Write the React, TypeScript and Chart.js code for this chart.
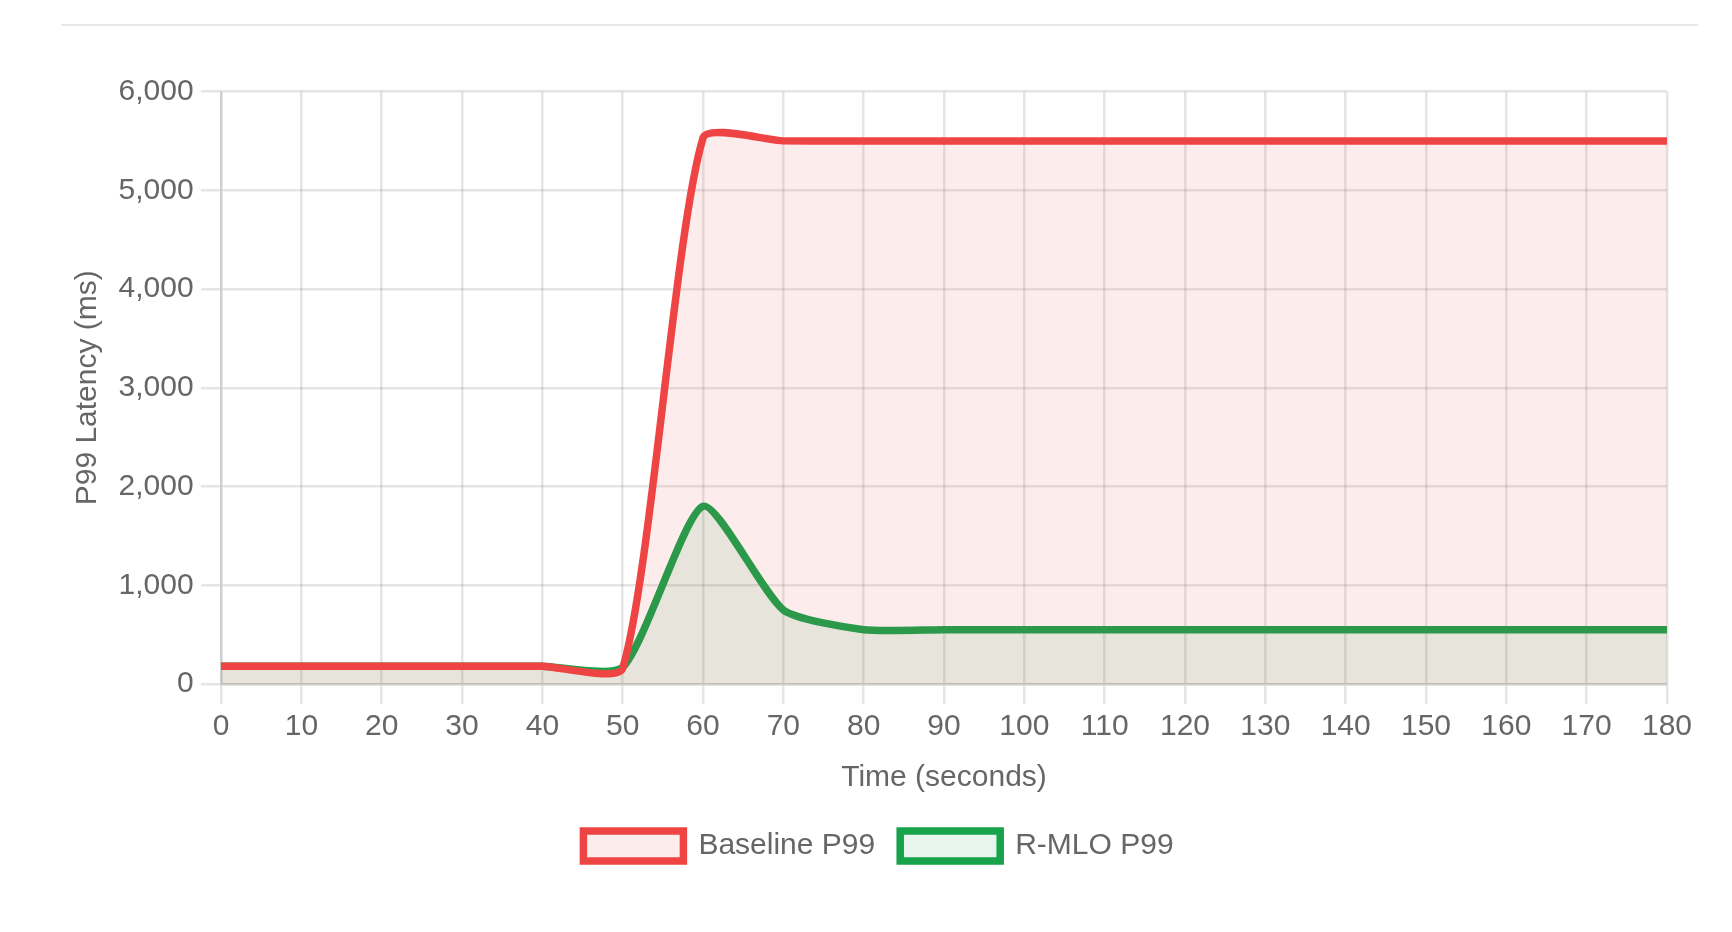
import React, { useEffect, useRef } from 'react';
import Chart, { ChartConfiguration } from 'chart.js/auto';

// time axis (seconds)
const timeLabels: string[] = [
    '0', '10', '20', '30', '40', '50', '60', '70', '80', '90',
    '100', '110', '120', '130', '140', '150', '160', '170', '180',
];

// P99 latency in ms
const baselineP99: number[] = [
    180, 180, 180, 180, 180, 160, 5530, 5500, 5500, 5500,
    5500, 5500, 5500, 5500, 5500, 5500, 5500, 5500, 5500,
];
const rmloP99: number[] = [
    180, 180, 180, 180, 180, 170, 1800, 750, 550, 550,
    550, 550, 550, 550, 550, 550, 550, 550, 550,
];

const yTicks = { min: 0, max: 6000, step: 1000 };

const S = 2.5; // the reference is a 2.5x zoomed page
const FONT = 'Arial, "Liberation Sans", Helvetica, sans-serif';
const TEXT = '#666';
const GRID = 'rgba(0, 0, 0, 0.1)';

const LatencyChart: React.FC = () => {
    const chartRef = useRef<HTMLCanvasElement | null>(null);

    // @ts-ignore
    useEffect(() => {
        const chartConfig: ChartConfiguration = {
            type: 'line',
            data: {
                labels: timeLabels,
                datasets: [
                    {
                        label: 'Baseline P99',
                        data: baselineP99,
                        borderColor: 'rgb(239, 68, 68)',
                        backgroundColor: 'rgba(239, 68, 68, 0.1)',
                        borderWidth: 3 * S,
                        fill: 'origin',
                        tension: 0.2,
                        pointRadius: 0,
                    },
                    {
                        label: 'R-MLO P99',
                        data: rmloP99,
                        borderColor: 'rgb(22, 163, 74)',
                        backgroundColor: 'rgba(22, 163, 74, 0.1)',
                        borderWidth: 3 * S,
                        fill: 'origin',
                        tension: 0.2,
                        pointRadius: 0,
                    },
                ],
            },
            options: {
                animation: false,
                responsive: true,
                maintainAspectRatio: false,
                plugins: {
                    legend: {
                        position: 'bottom',
                        labels: {
                            boxWidth: 40 * S,
                            boxHeight: 12 * S,
                            padding: 10 * S,
                            color: TEXT,
                            font: { family: FONT, size: 12 * S },
                        },
                    },
                    tooltip: { enabled: false },
                },
                scales: {
                    x: {
                        grid: { color: GRID, lineWidth: S, tickLength: 8 * S },
                        border: { color: GRID, width: S },
                        ticks: {
                            color: TEXT,
                            padding: 2 * S,
                            maxRotation: 0,
                            autoSkip: false,
                            font: { family: FONT, size: 12 * S },
                        },
                        title: {
                            display: true,
                            text: 'Time (seconds)',
                            color: TEXT,
                            padding: { top: 4 * S, bottom: 4 * S },
                            font: { family: FONT, size: 12 * S },
                        },
                    },
                    y: {
                        min: yTicks.min,
                        max: yTicks.max,
                        grid: { color: GRID, lineWidth: S, tickLength: 8 * S },
                        border: { color: GRID, width: S },
                        ticks: {
                            stepSize: yTicks.step,
                            color: TEXT,
                            padding: 3 * S,
                            font: { family: FONT, size: 12 * S },
                        },
                        title: {
                            display: true,
                            text: 'P99 Latency (ms)',
                            color: TEXT,
                            padding: { top: 4 * S, bottom: 2 * S },
                            font: { family: FONT, size: 12 * S },
                        },
                    },
                },
            },
        };

        if (chartRef.current) {
            const ctx = chartRef.current.getContext('2d');
            if (ctx) {
                const chartInstance = new Chart(ctx, chartConfig);
                return () => {
                    chartInstance.destroy();
                };
            }
        }
    }, []);

    return <canvas ref={chartRef} />;
};

const App: React.FC = () => {
    return (
        <div style={{ position: 'relative', width: 1716, height: 916 }}>
            <div
                style={{
                    position: 'absolute',
                    left: 53,
                    top: 16,
                    width: 1637,
                    height: 2,
                    background: '#e8e8e8',
                }}
            />
            <div style={{ position: 'absolute', left: 52, top: 58, width: 1637, height: 805 }}>
                <LatencyChart />
            </div>
        </div>
    );
};

export default App;
